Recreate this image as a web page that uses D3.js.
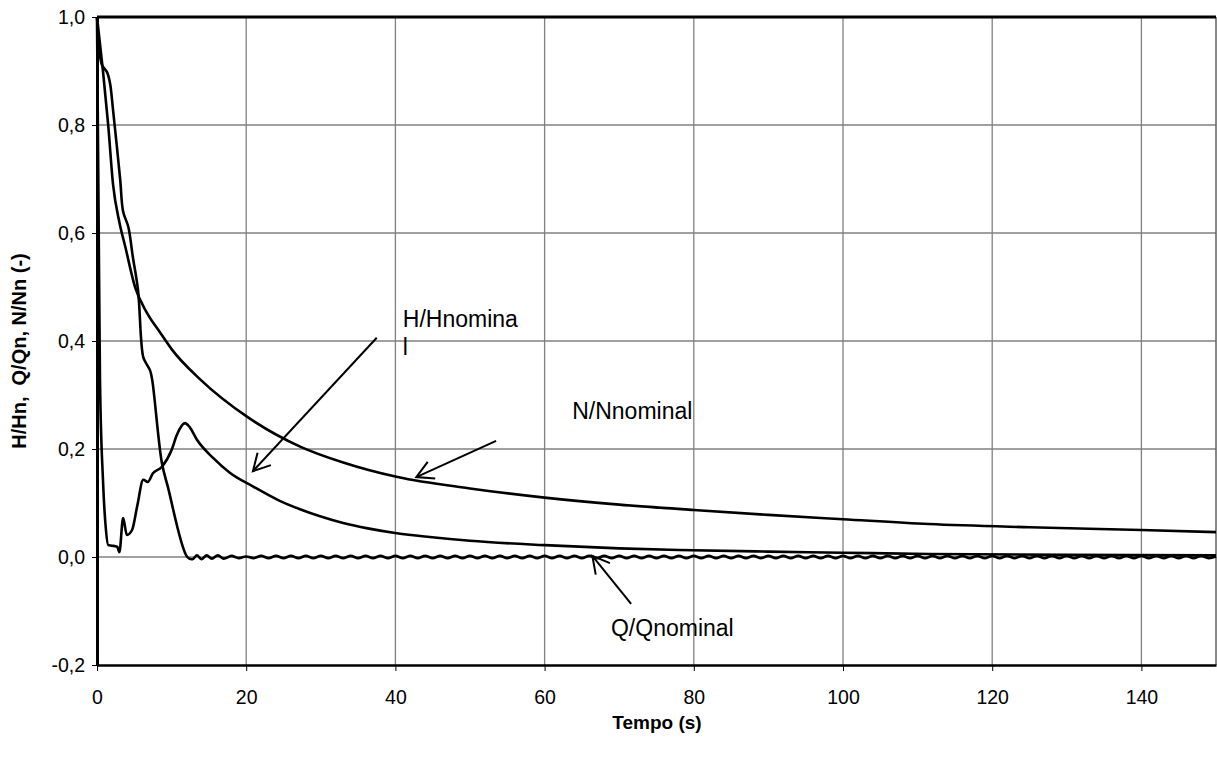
<!DOCTYPE html>
<html>
<head>
<meta charset="utf-8">
<script src="https://cdn.jsdelivr.net/npm/d3@7"></script>
<style>
  body { margin: 0; background: #fff; }
  text { font-family: Arial, "Liberation Sans", sans-serif; fill: #000; }
</style>
</head>
<body>
<script>
// tamaño del area de dibujo
var ancho = 1217, alto = 762;

// ticks
var ticksX = [0, 20, 40, 60, 80, 100, 120, 140];
var ticksY = [-0.2, 0, 0.2, 0.4, 0.6, 0.8, 1.0];

// series [tiempo (s), valor]
var serieN = [[0,1.0],[0.8,0.9],[1.5,0.8],[2.15,0.69],[3.0,0.62],[3.8,0.574],[5.1,0.5],[6.7,0.452],
  [8.5,0.415],[10,0.385],[13.9,0.328],[20.2,0.259],[27.3,0.204],[33,0.175],[40.3,0.148],[50,0.127],
  [60,0.11],[70,0.097],[80,0.087],[90,0.078],[100,0.07],[111.5,0.061],[125,0.055],[140,0.05],[150,0.046]];

var serieH = [[0,1.0],[0.2,0.66],[0.4,0.328],[0.8,0.143],[1.2,0.05],[1.5,0.022],[2.0,0.021],[2.7,0.019],
  [3.0,0.009],[3.5,0.072],[4.0,0.041],[4.7,0.05],[5.4,0.095],[6.2,0.143],[6.8,0.139],[7.5,0.155],
  [8.7,0.167],[10,0.198],[10.7,0.226],[11.8,0.248],[12.4,0.241],[13.4,0.217],[15.6,0.183],[17.8,0.156],
  [21,0.13],[24.5,0.104],[27.3,0.088],[30,0.075],[33,0.063],[36.3,0.053],[40.2,0.044],[44.6,0.037],[50,0.03],
  [60,0.022],[70,0.016],[78,0.013],[90,0.01],[100,0.008],[111.5,0.0055],[130,0.004],[150,0.003]];

var serieQ = [[0,1.0],[0.67,0.911],[1.34,0.898],[1.74,0.878],[2.15,0.828],[3.1,0.70],[3.5,0.64],[4.2,0.611],
  [4.8,0.556],[5.5,0.494],[6.2,0.37],[6.7,0.356],[7.1,0.346],[7.4,0.328],[8.7,0.174],[9.5,0.13],[12.1,0.0],
  [12.8,-0.004],[13.4,0.003],[14.0,-0.004],[14.7,0.003],[15.4,-0.003],[16.2,0.003],[17,-0.003],[18,0.002],
  [19,-0.002],[20,0.001],[21,-0.002],[22,0.002],[23,-0.002],[24,0.002],[25,-0.002],[26,0.002],[27,-0.002],
  [28,0.002],[29,-0.002],[30,0.002],[31,-0.002],[32,0.002],[33,-0.002],[34,0.002],[35,-0.002],[36,0.002],
  [37,-0.002],[38,0.002],[39,-0.002],[40,0.002],[41,-0.002],[42,0.002],[43,-0.002],[44,0.002],[45,-0.002],
  [46,0.002],[47,-0.002],[48,0.002],[49,-0.002],[50,0.002],[51,-0.002],[52,0.002],[53,-0.002],[54,0.002],
  [55,-0.002],[56,0.002],[57,-0.002],[58,0.002],[59,-0.002],[60,0.002],[61,-0.002],[62,0.002],[63,-0.002],
  [64,0.002],[65,-0.002],[66,0.002],[67,-0.002],[68,0.002],[69,-0.002],[70,0.002],[71,-0.002],[72,0.002],
  [73,-0.002],[74,0.002],[75,-0.002],[76,0.002],[77,-0.002],[78,0.002],[79,-0.002],[80,0.002],[81,-0.002],
  [82,0.002],[83,-0.002],[84,0.002],[85,-0.002],[86,0.002],[87,-0.002],[88,0.002],[89,-0.002],[90,0.002],
  [91,-0.002],[92,0.002],[93,-0.002],[94,0.002],[95,-0.002],[96,0.002],[97,-0.002],[98,0.002],[99,-0.002],
  [100,0.002],[101,-0.002],[102,0.002],[103,-0.002],[104,0.002],[105,-0.002],[106,0.002],[107,-0.002],
  [108,0.002],[109,-0.002],[110,0.002],[111,-0.002],[112,0.002],[113,-0.002],[114,0.002],[115,-0.002],
  [116,0.002],[117,-0.002],[118,0.002],[119,-0.002],[120,0.002],[121,-0.002],[122,0.002],[123,-0.002],
  [124,0.002],[125,-0.002],[126,0.002],[127,-0.002],[128,0.002],[129,-0.002],[130,0.002],[131,-0.002],
  [132,0.002],[133,-0.002],[134,0.002],[135,-0.002],[136,0.002],[137,-0.002],[138,0.002],[139,-0.002],
  [140,0.002],[141,-0.002],[142,0.002],[143,-0.002],[144,0.002],[145,-0.002],[146,0.002],[147,-0.002],
  [148,0.002],[149,-0.002],[150,0.001]];

// anotaciones: texto (lineas), posicion del texto, punta y cola de la flecha (unidades de datos)
var etiquetas = [
  {lineas: ["H/Hnomina", "l"], t: 41.0, v: 0.426, punta: [20.9, 0.159], cola: [37.5, 0.406]},
  {lineas: ["N/Nnominal"], t: 63.7, v: 0.256, punta: [42.8, 0.148], cola: [53.5, 0.215]},
  {lineas: ["Q/Qnominal"], t: 68.9, v: -0.146, punta: [66.4, 0.002], cola: [71.6, -0.087]}
];

var svg = d3.select("body")
  .append("svg")
  .attr("width", ancho)
  .attr("height", alto);

svg.append("rect").attr("width", ancho).attr("height", alto).attr("fill", "#fff");

// escalas
var x = d3.scaleLinear().domain([0, 150]).range([97, 1216]);
var y = d3.scaleLinear().domain([-0.2, 1.0]).range([665, 17]);

// rejilla
svg.selectAll("line.gx")
  .data(ticksX.slice(1))
  .enter().append("line")
  .attr("x1", d => x(d)).attr("x2", d => x(d))
  .attr("y1", y(1.0)).attr("y2", y(-0.2))
  .attr("stroke", "#808080").attr("stroke-width", 1.3);

svg.selectAll("line.gy")
  .data(ticksY.slice(1, -1))
  .enter().append("line")
  .attr("x1", x(0)).attr("x2", x(150))
  .attr("y1", d => y(d)).attr("y2", d => y(d))
  .attr("stroke", "#808080").attr("stroke-width", 1.3);

// borde derecho
svg.append("line")
  .attr("x1", x(150)).attr("x2", x(150)).attr("y1", y(1.0)).attr("y2", y(-0.2))
  .attr("stroke", "#606060").attr("stroke-width", 1.5);

// ejes
var ejeX = d3.axisBottom(x).tickValues(ticksX).tickSize(6).tickSizeOuter(0).tickPadding(19);
var gx = svg.append("g").attr("transform", "translate(0," + y(-0.2) + ")").call(ejeX);
gx.select(".domain").attr("stroke", "#000").attr("stroke-width", 2.5);
gx.selectAll(".tick line").attr("stroke", "#000").attr("stroke-width", 1);
gx.selectAll("text").attr("font-size", 19.5).attr("font-family", "Arial, 'Liberation Sans', sans-serif").attr("fill", "#000");

var ejeY = d3.axisLeft(y).tickValues(ticksY).tickSize(5).tickSizeOuter(0).tickPadding(7)
  .tickFormat(d => d3.format(".1f")(d).replace(".", ",").replace("−", "-"));
var gy = svg.append("g").attr("transform", "translate(" + x(0) + ",0)").call(ejeY);
gy.select(".domain").attr("stroke", "#000").attr("stroke-width", 3);
gy.selectAll(".tick line").attr("stroke", "#000").attr("stroke-width", 1);
gy.selectAll("text").attr("font-size", 19.5).attr("font-family", "Arial, 'Liberation Sans', sans-serif").attr("fill", "#000");

// borde superior
svg.append("line")
  .attr("x1", x(0)).attr("x2", x(150)).attr("y1", y(1.0)).attr("y2", y(1.0))
  .attr("stroke", "#000").attr("stroke-width", 3);

// curvas
var linea = d3.line()
  .x(d => x(d[0]))
  .y(d => y(d[1]))
  .curve(d3.curveMonotoneX);

var lineaQ = d3.line()
  .x(d => x(d[0]))
  .y(d => y(d[1]))
  .curve(d3.curveCatmullRom.alpha(0.5));

[[serieN, linea], [serieH, linea], [serieQ, lineaQ]].forEach(function (s) {
  svg.append("path")
    .datum(s[0])
    .attr("d", s[1])
    .attr("fill", "none")
    .attr("stroke", "#000")
    .attr("stroke-width", 2.6)
    .attr("stroke-linejoin", "round");
});

// flechas y textos
etiquetas.forEach(function (e) {
  var px = x(e.punta[0]), py = y(e.punta[1]);
  var cx = x(e.cola[0]), cy = y(e.cola[1]);
  var ang = Math.atan2(cy - py, cx - px);
  var largo = 19, abre = 0.5;
  svg.append("line")
    .attr("x1", cx).attr("y1", cy).attr("x2", px).attr("y2", py)
    .attr("stroke", "#000").attr("stroke-width", 2);
  svg.append("path")
    .attr("d", "M" + (px + largo * Math.cos(ang - abre)) + "," + (py + largo * Math.sin(ang - abre)) +
      "L" + px + "," + py +
      "L" + (px + largo * Math.cos(ang + abre)) + "," + (py + largo * Math.sin(ang + abre)))
    .attr("fill", "none").attr("stroke", "#000").attr("stroke-width", 2);
  var t = svg.append("text")
    .attr("x", x(e.t)).attr("y", y(e.v))
    .attr("font-size", 23);
  e.lineas.forEach(function (l, i) {
    t.append("tspan").attr("x", x(e.t)).attr("dy", i === 0 ? 0 : 28).text(l);
  });
});

// titulos de ejes
svg.append("text")
  .attr("x", 657).attr("y", 729)
  .attr("text-anchor", "middle")
  .attr("font-weight", "bold")
  .attr("font-size", 19)
  .text("Tempo (s)");

svg.append("text")
  .attr("transform", "translate(26,351) rotate(-90)")
  .attr("text-anchor", "middle")
  .attr("font-weight", "bold")
  .attr("font-size", 20)
  .attr("xml:space", "preserve")
  .style("white-space", "pre")
  .text("H/Hn,  Q/Qn, N/Nn (-)");
</script>
</body>
</html>
